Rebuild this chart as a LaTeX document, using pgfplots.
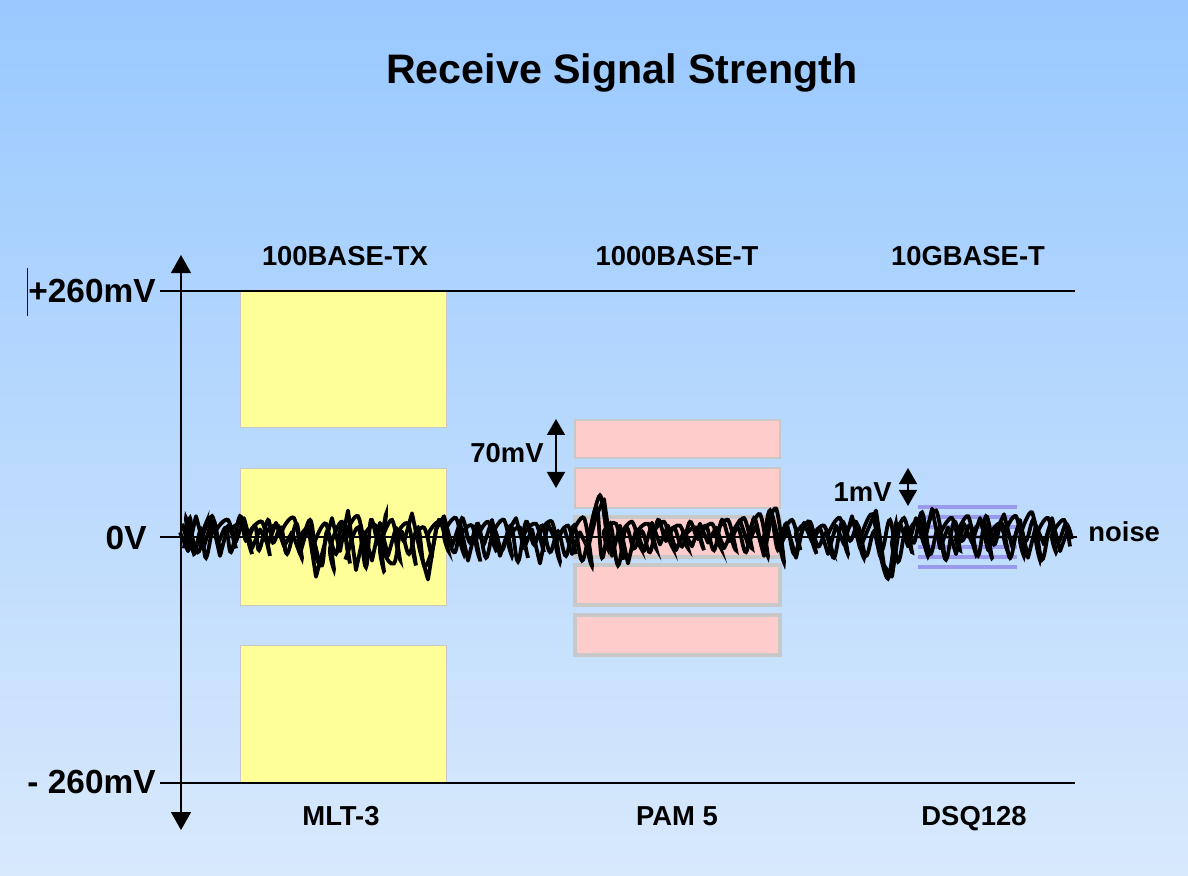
\documentclass[border=0pt]{standalone}
\usepackage{pgfplots}
\pgfplotsset{compat=1.18}
\usetikzlibrary{arrows.meta}
\usepackage{fontspec}
\setmainfont{Liberation Sans}

\definecolor{bgtop}{RGB}{153,201,255}
\definecolor{bgbot}{RGB}{216,233,252}
\definecolor{mlt}{RGB}{255,255,153}
\definecolor{pam}{RGB}{255,204,204}
\definecolor{dsq}{RGB}{153,153,238}
\definecolor{boxedge}{RGB}{200,200,200}

% x in pixels of the slide, y in mV (246 px = 260 mV)
\newcommand{\lbl}{\fontsize{13.7}{16}\selectfont\bfseries}
\newcommand{\axlbl}{\fontsize{16.7}{19}\selectfont\bfseries}

\begin{document}
\begin{tikzpicture}
\shade[top color=bgtop, bottom color=bgbot] (0,0) rectangle (594pt,438pt);
\begin{axis}[
  at={(0,0)}, anchor=south west,
  width=594pt, height=438pt,
  scale only axis,
  hide axis,
  clip=false,
  xmin=0, xmax=1188,
  ymin=-358.29, ymax=567.56,
]

% MLT-3 levels
\addplot[fill=mlt, draw=boxedge, line width=0.5pt] coordinates {(240,260) (446,260) (446,115.2) (240,115.2)} --cycle;
\addplot[fill=mlt, draw=boxedge, line width=0.5pt] coordinates {(240,72.9) (446,72.9) (446,-71.9) (240,-71.9)} --cycle;
\addplot[fill=mlt, draw=boxedge, line width=0.5pt] coordinates {(240,-114.2) (446,-114.2) (446,-260) (240,-260)} --cycle;

% PAM 5 levels
\addplot[fill=pam, draw=boxedge, line width=1pt] coordinates {(575,123.7) (780,123.7) (780,83.5) (575,83.5)} --cycle;
\addplot[fill=pam, draw=boxedge, line width=1pt] coordinates {(575,72.9) (780,72.9) (780,30.7) (575,30.7)} --cycle;
\addplot[fill=pam, draw=boxedge, line width=2pt] coordinates {(575,21.1) (780,21.1) (780,-21.1) (575,-21.1)} --cycle;
\addplot[fill=pam, draw=boxedge, line width=2pt] coordinates {(575,-29.6) (780,-29.6) (780,-71.9) (575,-71.9)} --cycle;
\addplot[fill=pam, draw=boxedge, line width=2pt] coordinates {(575,-82.5) (780,-82.5) (780,-124.7) (575,-124.7)} --cycle;

% DSQ128 levels
\addplot[dsq, line width=2pt] coordinates {(918,31.7) (1017,31.7)};
\addplot[dsq, line width=2pt] coordinates {(918,21.1) (1017,21.1)};
\addplot[dsq, line width=2pt] coordinates {(918,10.6) (1017,10.6)};
\addplot[dsq, line width=2pt] coordinates {(918,0) (1017,0)};
\addplot[dsq, line width=2pt] coordinates {(918,-10.6) (1017,-10.6)};
\addplot[dsq, line width=2pt] coordinates {(918,-21.1) (1017,-21.1)};
\addplot[dsq, line width=2pt] coordinates {(918,-31.7) (1017,-31.7)};

% reference lines
\addplot[black, line width=0.7pt] coordinates {(160,260) (1075,260)};
\addplot[black, line width=0.7pt] coordinates {(160,-260) (1075,-260)};
\addplot[black, line width=0.7pt] coordinates {(160,0) (1077,0)};

% noise traces
\addplot[black, line width=1.9pt, line join=round] coordinates {
(180,5) (188,-15) (196,22) (204,-10) (212,18) (220,-20) (228,12) (236,-5)
(244,20) (252,-12) (260,8) (268,-8) (276,15) (284,-10) (292,5) (300,-18)
(308,12) (316,-42) (324,-10) (332,20) (340,-15) (348,28) (356,-35) (364,5)
(372,-25) (380,15) (388,-20) (396,10) (404,-5) (412,25) (420,-15) (428,-45)
(436,8) (444,22) (452,-10) (460,15) (468,-25) (476,10) (484,-8) (492,18)
(500,-20) (508,6) (516,20) (524,-12) (532,8) (540,-28) (548,14) (556,-5)
(564,10) (572,-18) (580,5) (588,-12) (596,22) (604,40) (612,-20) (620,12)
(628,-28) (636,8) (644,-15) (652,15) (660,-8) (668,12) (676,-14) (684,6)
(692,-10) (700,14) (708,-6) (716,10) (724,-12) (732,5) (740,18) (748,-8)
(756,12) (764,-20) (772,25) (780,-10) (788,8) (796,-22) (804,15) (812,-5)
(820,10) (828,-18) (836,12) (844,-8) (852,22) (860,-12) (868,8) (876,28)
(884,-30) (892,-42) (900,15) (908,-10) (916,20) (924,-8) (932,30) (940,-12)
(948,10) (956,-18) (964,14) (972,-6) (980,20) (988,-14) (996,6) (1004,24)
(1012,-10) (1020,18) (1028,-22) (1036,12) (1044,-8) (1052,20) (1060,-15) (1068,8)
};
\addplot[black, line width=1.9pt, smooth, tension=0.6] coordinates {
(184,-12) (190,20) (194,-18) (201,8) (206,-22) (214,15) (218,-5) (226,10)
(231,-16) (240,22) (246,-4) (255,12) (259,-14) (268,18) (273,-6) (281,10)
(287,-18) (296,14) (301,-4) (310,18) (315,-8) (322,-30) (327,6) (336,-18)
(342,14) (351,-2) (346,-22) (358,10) (366,-32) (371,18) (379,-8) (386,24)
(383,-12) (394,-28) (401,6) (409,-18) (418,10) (424,-30) (432,-14) (439,18)
(446,4) (455,-16) (462,20) (470,-6) (478,14) (486,-22) (494,8) (502,-14)
(511,12) (518,-26) (526,16) (534,-8) (542,12) (550,-16) (558,6) (566,-20)
(574,12) (582,-25) (590,8) (597,30) (602,-22) (610,14) (618,-30) (626,10)
(634,-12) (642,6) (650,-16) (658,18) (666,-4) (674,10) (682,-10) (690,16)
(698,-2) (706,12) (714,-14) (722,18) (730,-4) (738,10) (746,-16) (754,20)
(762,-6) (770,28) (778,-14) (786,14) (794,-18) (802,6) (810,16) (818,-10)
(826,4) (834,-22) (842,16) (850,-4) (858,12) (866,-20) (874,6) (882,-14)
(890,18) (898,-26) (906,10) (914,-6) (922,26) (930,-18) (938,8) (946,-24)
(954,16) (962,-4) (970,12) (978,-20) (986,22) (994,-8) (1002,14) (1010,-22)
(1018,10) (1026,-4) (1034,18) (1042,-24) (1050,10) (1058,-6) (1066,14) (1072,-2)
};
\addplot[black, line width=1.9pt, smooth, tension=0.5] coordinates {
(182,14) (190,-10) (186,20) (198,-16) (205,12) (200,-6) (212,22) (220,-14)
(216,6) (228,18) (236,-12) (232,8) (244,14) (252,-18) (248,2) (262,16)
(270,-20) (266,4) (278,12) (286,-16) (282,6) (294,20) (302,-22) (298,-4)
(310,10) (318,-26) (314,-8) (326,14) (334,-34) (330,-12) (342,16) (350,-28)
(346,2) (358,22) (366,-20) (362,-2) (376,12) (384,-36) (380,-10) (392,18)
(400,-24) (396,0) (408,14) (416,-30) (412,-4) (424,10) (432,-22) (428,2)
(440,16) (448,-14) (444,4) (456,20) (464,-18) (460,0) (472,12) (480,-24)
(476,-4) (488,16) (496,-14) (492,2) (504,18) (512,-20) (508,-2) (520,10)
(528,-22) (524,2) (536,14) (544,-16) (540,4) (552,16) (560,-26) (556,-6)
(568,12) (576,-18) (572,2) (584,20) (592,-30) (588,-8) (600,44) (608,-12)
(604,6) (616,14) (624,-24) (620,0) (632,16) (640,-10) (636,4) (648,14)
(656,-12) (652,2) (664,16) (672,-10) (668,4) (680,12) (688,-12) (684,0)
(696,10) (704,-14) (700,2) (712,14) (720,-10) (716,4) (728,18) (736,-14)
(732,0) (744,20) (752,-12) (748,2) (760,24) (768,-20) (764,0) (776,30)
(784,-26) (780,-4) (792,18) (800,-12) (796,4) (808,14) (816,-16) (812,0)
(824,12) (832,-14) (828,2) (840,20) (848,-18) (844,0) (856,16) (864,-22)
(860,-4) (872,24) (880,-20) (876,0) (888,-44) (896,14) (892,-8) (904,20)
(912,-16) (908,4) (920,18) (928,-20) (924,0) (936,28) (944,-16) (940,2)
(952,20) (960,-14) (956,0) (968,22) (976,-18) (972,2) (984,16) (992,-22)
(988,-2) (1000,14) (1008,-16) (1004,2) (1016,22) (1024,-20) (1020,0) (1032,26)
(1040,-24) (1036,0) (1048,20) (1056,-16) (1052,2) (1064,18) (1070,-10)
};

% vertical axis and dimension arrows
\addplot[black, line width=0.7pt, {Triangle[width=10pt,length=9pt]}-{Triangle[width=10pt,length=9pt]}] coordinates {(181,-309.7) (181,298.0)};
\addplot[black, line width=0.8pt, {Triangle[width=9pt,length=8pt]}-{Triangle[width=9pt,length=8pt]}] coordinates {(556,51.8) (556,124.7)};
\addplot[black, line width=0.8pt, {Triangle[width=9pt,length=8pt]}-{Triangle[width=9pt,length=8pt]}] coordinates {(908,32.8) (908,72.9)};
\addplot[black!60!red!70!black, line width=0.4pt] coordinates {(27,233.6) (27,284.3)};

% text
\node[font={\fontsize{20.6}{24}\selectfont\bfseries}] at (axis cs:622,490.4) {Receive Signal Strength};
\node[font=\lbl, anchor=base] at (axis cs:345,286.4) {100BASE-TX};
\node[font=\lbl, anchor=base] at (axis cs:677,286.4) {1000BASE-T};
\node[font=\lbl, anchor=base] at (axis cs:968,286.4) {10GBASE-T};
\node[font=\lbl, anchor=base] at (axis cs:341,-305.4) {MLT-3};
\node[font=\lbl, anchor=base] at (axis cs:677,-305.4) {PAM 5};
\node[font=\lbl, anchor=base] at (axis cs:974,-305.4) {DSQ128};
\node[font=\axlbl, anchor=base east, inner sep=0pt] at (axis cs:156,247.3) {+260mV};
\node[font=\axlbl, anchor=base east, inner sep=0pt] at (axis cs:147,-12.7) {0V};
\node[font=\axlbl, anchor=base east, inner sep=0pt] at (axis cs:156,-271.6) {- 260mV};
\node[font=\lbl, anchor=west, inner sep=0pt] at (axis cs:1088,5.3) {noise};
\node[font=\lbl, anchor=east, inner sep=0pt] at (axis cs:544,88.8) {70mV};
\node[font=\lbl, anchor=east, inner sep=0pt] at (axis cs:892,47.6) {1mV};
\end{axis}
\end{tikzpicture}
\end{document}
